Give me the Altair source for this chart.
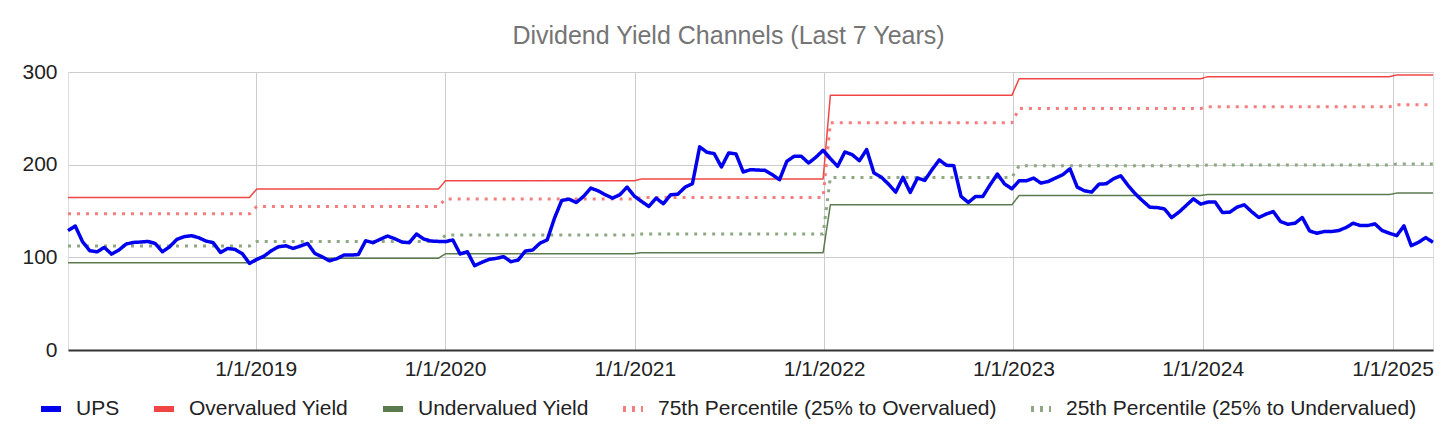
import altair as alt
import pandas as pd

# ---- UPS series (biweekly readings, by year) ----
ups_2018 = [128.8, 133.8, 116.9, 107.1, 106.0, 110.7, 103.5, 107.8, 114.3, 116.1, 116.5, 117.2, 115.0,
            106.0, 111.4, 119.4, 122.3, 123.4, 121.2, 117.6, 115.8, 105.3, 109.6, 108.6, 104.0, 93.4]
ups_2019 = [97.7, 101.3, 107.1, 111.4, 112.5, 109.6, 112.2, 115.0, 104.2, 100.6, 96.3, 98.4, 102.4,
            102.4, 103.1, 117.9, 115.8, 119.4, 123.0, 120.1, 116.5, 115.8, 125.2, 119.7, 117.6, 117.2]
ups_2020 = [116.9, 118.8, 103.6, 106.1, 91.0, 94.6, 97.8, 98.9, 100.7, 95.3, 97.1, 106.8, 107.9,
            115.2, 118.8, 142.2, 161.4, 162.8, 159.2, 165.7, 174.7, 171.8, 167.5, 163.9, 167.5, 175.8]
ups_2021 = [166.0, 160.3, 154.9, 163.9, 157.8, 167.5, 168.2, 175.8, 179.4, 219.2, 213.4, 211.9, 197.5,
            212.7, 211.6, 192.1, 194.6, 194.2, 193.9, 189.2, 183.8, 203.6, 209.0, 209.0, 201.8, 208.0, 215.5]
ups_2022 = [206.5, 198.2, 213.7, 210.8, 204.3, 216.3, 191.0, 186.6, 179.1, 170.4, 186.3, 170.0, 185.6,
            183.0, 194.6, 205.1, 199.3, 198.9, 165.7, 159.2, 165.7, 165.7, 178.3, 189.9, 179.1, 174.0]
ups_2023 = [182.6, 182.6, 185.5, 180.1, 181.9, 185.5, 189.1, 195.6, 175.8, 171.8, 170.4, 179.0, 179.4,
            184.8, 188.0, 177.6, 168.5, 161.0, 154.1, 153.7, 152.3, 142.9, 148.7, 155.9, 163.1, 157.4]
ups_2024 = [159.6, 159.6, 148.4, 148.7, 154.1, 156.7, 149.4, 143.0, 146.6, 149.4, 138.6, 135.7, 136.8,
            143.0, 128.5, 126.0, 127.8, 127.8, 128.9, 132.1, 136.8, 134.3, 134.3, 136.1, 128.9, 126.0]
ups_2025 = [123.4, 133.9, 112.6, 116.2, 121.3, 116.2]

# ---- yearly channel levels ----
years = [2018, 2019, 2020, 2021, 2022, 2023, 2024, 2025]
overvalued = [164.6, 173.7, 182.7, 184.5, 274.8, 292.8, 295.0, 296.8]
undervalued = [94.2, 98.9, 104.0, 105.0, 156.7, 166.8, 167.8, 169.3]
pct75 = [146.9, 154.8, 163.0, 164.6, 245.2, 260.7, 262.5, 264.7]
pct25 = [112.2, 117.0, 124.0, 125.2, 186.2, 198.9, 199.7, 200.7]

series_names = ["UPS", "Overvalued Yield", "Undervalued Yield",
                "75th Percentile (25% to Overvalued)", "25th Percentile (25% to Undervalued)"]
series_colors = ["#0000ee", "#f04545", "#5b7b4f", "#f47e7e", "#8fa883"]
series_dash = [[1, 0], [1, 0], [1, 0], [3, 6], [3, 6]]

ups = ups_2018 + ups_2019 + ups_2020 + ups_2021 + ups_2022 + ups_2023 + ups_2024 + ups_2025
dates = pd.date_range("2018-01-04", periods=len(ups), freq="14D")

ups_df = pd.DataFrame({"date": dates, "value": ups, "series": "UPS"})


def level_rows(name, values):
    lv = dict(zip(years, values))
    return pd.DataFrame({"date": dates, "value": [lv[d.year] for d in dates], "series": name})


solid_df = pd.concat([level_rows("Overvalued Yield", overvalued),
                      level_rows("Undervalued Yield", undervalued)], ignore_index=True)
dotted_df = pd.concat([level_rows("75th Percentile (25% to Overvalued)", pct75),
                       level_rows("25th Percentile (25% to Undervalued)", pct25)], ignore_index=True)

FONT = "Liberation Sans"

x_enc = alt.X("date:T",
              scale=alt.Scale(domain=[dates[0].isoformat(), dates[-1].isoformat()], nice=False),
              axis=alt.Axis(values=[alt.DateTime(year=y, month=1, date=1) for y in range(2019, 2026)],
                            format="%-m/%-d/%Y", title=None, labelFontSize=21, labelFont=FONT,
                            labelColor="#222222", grid=True, gridColor="#cccccc", gridWidth=1,
                            ticks=False, domainColor="#333333", domainWidth=2, labelPadding=8))
y_enc = alt.Y("value:Q",
              scale=alt.Scale(domain=[0, 300], nice=False),
              axis=alt.Axis(values=[0, 100, 200, 300], title=None, labelFontSize=21, labelFont=FONT,
                            labelColor="#222222", grid=True, gridColor="#cccccc", gridWidth=1,
                            ticks=False, domain=False, labelPadding=11))

legend = alt.Legend(orient="none", legendX=-30, legendY=324, direction="horizontal",
                    columns=5, columnPadding=22, labelOffset=12, symbolType="stroke",
                    symbolSize=400, symbolStrokeWidth=6, labelFontSize=21,
                    labelFont=FONT, labelColor="#222222", title=None, padding=0,
                    labelLimit=600)
color_enc = alt.Color("series:N", scale=alt.Scale(domain=series_names, range=series_colors),
                      legend=legend)
dash_enc = alt.StrokeDash("series:N", scale=alt.Scale(domain=series_names, range=series_dash),
                          legend=legend)

solid = alt.Chart(solid_df).mark_line(strokeWidth=1.5, strokeJoin="round").encode(
    x=x_enc, y=y_enc, color=color_enc, strokeDash=dash_enc)
dotted = alt.Chart(dotted_df).mark_line(strokeWidth=3, strokeJoin="round").encode(
    x=x_enc, y=y_enc, color=color_enc, strokeDash=dash_enc)
ups_line = alt.Chart(ups_df).mark_line(strokeWidth=3.5, strokeJoin="round").encode(
    x=x_enc, y=y_enc, color=color_enc, strokeDash=dash_enc)

chart = alt.layer(solid, dotted, ups_line).properties(
    width=1365, height=278,
    title=alt.Title("Dividend Yield Channels (Last 7 Years)", fontSize=25, color="#757575",
                    font=FONT, fontWeight="normal", anchor="middle", dx=-22, offset=12),
    autosize=alt.AutoSizeParams(type="none"),
    padding={"left": 60, "top": 64, "right": 15, "bottom": 82},
).configure_view(stroke=None).configure(background="white")

chart.save("out.html", embed_options={"renderer": "svg", "actions": False})
